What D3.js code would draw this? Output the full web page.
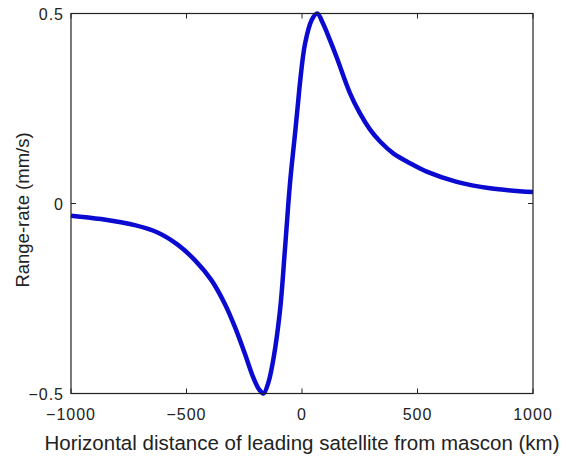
<!DOCTYPE html>
<html>
<head>
<meta charset="utf-8">
<script src="https://cdn.jsdelivr.net/npm/d3@7"></script>
<style>
body { margin: 0; background: #fff; }
text { font-family: "Liberation Sans", Arial, sans-serif; fill: #222; }
</style>
</head>
<body>
<div class="container"></div>
<script>
const width = 579, height = 463;

// distance (km) and range-rate (mm/s)
const distance = [-1000, -870, -724, -623, -537, -464, -393, -335, -291, -248, -212, -185, -167,
	-145, -124, -95, -74, -52, -30, -16, -9, 13, 42, 66, 90, 121, 150, 208, 251, 294, 338, 395, 468, 540, 670, 814, 1000];
const rangeRate = [-0.032, -0.041, -0.057, -0.077, -0.109, -0.149, -0.201, -0.263, -0.324, -0.394, -0.456, -0.49, -0.5,
	-0.47, -0.41, -0.28, -0.122, 0.053, 0.185, 0.272, 0.316, 0.42, 0.483, 0.5, 0.475, 0.43, 0.385, 0.29, 0.237, 0.195, 0.163, 0.132, 0.106, 0.084, 0.057, 0.04, 0.03];

const xTicks = [-1000, -500, 0, 500, 1000];
const yTicks = [-0.5, 0, 0.5];

const margin = {left: 71, right: 46, top: 13.5, bottom: 69.5};
const sx = d3.scaleLinear().domain([-1000, 1000]).range([margin.left, width - margin.right]);
const sy = d3.scaleLinear().domain([-0.5, 0.5]).range([height - margin.bottom, margin.top]);

const svg = d3.select('.container').append('svg')
	.attr('width', width)
	.attr('height', height);

const data = distance.map((d, i) => ({x: d, y: rangeRate[i]}));

svg.append('path')
	.datum(data)
	.attr('fill', 'none')
	.attr('stroke', '#0a0ad0')
	.attr('stroke-width', 4.5)
	.attr('stroke-linejoin', 'round')
	.attr('d', d3.line().x(d => sx(d.x)).y(d => sy(d.y)).curve(d3.curveCatmullRom.alpha(0.5)));

// box
svg.append('rect')
	.attr('x', sx(-1000))
	.attr('y', sy(0.5))
	.attr('width', sx(1000) - sx(-1000))
	.attr('height', sy(-0.5) - sy(0.5))
	.attr('fill', 'none')
	.attr('stroke', '#222')
	.attr('stroke-width', 1.2);

// ticks (inward on all four sides)
const tk = 5;
const g = svg.append('g').attr('stroke', '#222').attr('stroke-width', 1);
xTicks.forEach(t => {
	g.append('line').attr('x1', sx(t)).attr('x2', sx(t)).attr('y1', sy(-0.5)).attr('y2', sy(-0.5) - tk);
	g.append('line').attr('x1', sx(t)).attr('x2', sx(t)).attr('y1', sy(0.5)).attr('y2', sy(0.5) + tk);
});
yTicks.forEach(t => {
	g.append('line').attr('x1', sx(-1000)).attr('x2', sx(-1000) + tk).attr('y1', sy(t)).attr('y2', sy(t));
	g.append('line').attr('x1', sx(1000)).attr('x2', sx(1000) - tk).attr('y1', sy(t)).attr('y2', sy(t));
});

// tick labels
svg.selectAll('.xl')
	.data(xTicks)
	.join('text')
	.attr('text-anchor', 'middle')
	.attr('x', d => sx(d))
	.attr('y', sy(-0.5) + 26)
	.attr('font-size', 16)
	.attr('letter-spacing', 1)
	.text(d => String(d).replace('-', '\u2212'));

svg.selectAll('.yl')
	.data(yTicks)
	.join('text')
	.attr('text-anchor', 'end')
	.attr('x', sx(-1000) - 7)
	.attr('y', d => sy(d) + 6)
	.attr('font-size', 16)
	.attr('letter-spacing', 1)
	.text(d => String(d).replace('-', '\u2212'));

// axis titles
svg.append('text')
	.attr('text-anchor', 'middle')
	.attr('x', 302)
	.attr('y', 450)
	.attr('font-size', 20.5)
	.text('Horizontal distance of leading satellite from mascon (km)');

svg.append('text')
	.attr('text-anchor', 'middle')
	.attr('transform', 'translate(29,210) rotate(-90)')
	.attr('font-size', 18.5)
	.text('Range-rate (mm/s)');
</script>
</body>
</html>
